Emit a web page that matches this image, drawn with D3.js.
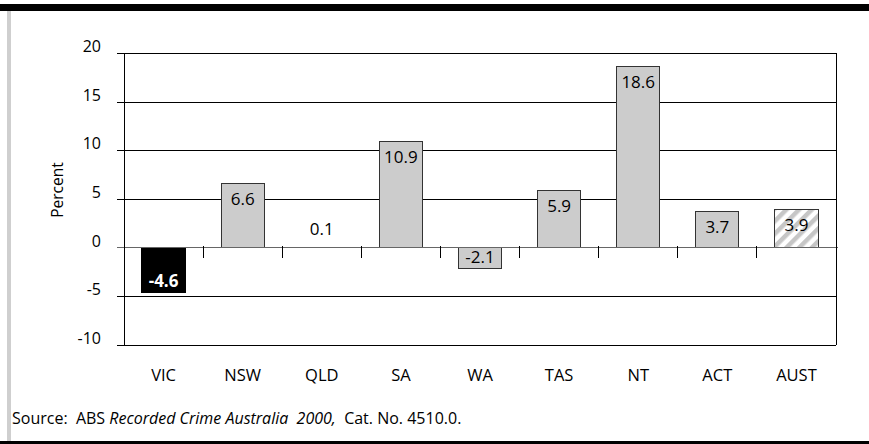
<!DOCTYPE html>
<html>
<head>
<meta charset="utf-8">
<script src="https://cdn.jsdelivr.net/npm/d3@7"></script>
<style>
  html, body { margin: 0; padding: 0; background: #fff; }
  svg { display: block; }
  text { font-family: "Open Sans", Lato, sans-serif; }
</style>
</head>
<body>
<svg id="chart" width="869" height="444"></svg>
<script>
// Change in recorded offences by jurisdiction (percent)
const states = ["VIC", "NSW", "QLD", "SA", "WA", "TAS", "NT", "ACT", "AUST"];
const changes = [-4.6, 6.6, 0.1, 10.9, -2.1, 5.9, 18.6, 3.7, 3.9];
const yTicks = [20, 15, 10, 5, 0, -5, -10];
const yLabels = ["20", "15", "10", "5", "0", "-5", "-10"];

const svg = d3.select("#chart");
const W = 869, H = 444;
const plot = { left: 124, right: 836, top: 53, bottom: 345 };

// Frame: heavy rule on top, grey rule on the left, rule along the bottom
svg.append("rect").attr("x", 0).attr("y", 4).attr("width", W).attr("height", 7).attr("fill", "#000");
svg.append("rect").attr("x", 7).attr("y", 11).attr("width", 4).attr("height", 430).attr("fill", "#cfcfcf");
svg.append("rect").attr("x", 0).attr("y", 441).attr("width", W).attr("height", 3).attr("fill", "#000");

// Hatch for the national total
const defs = svg.append("defs");
const pat = defs.append("pattern")
  .attr("id", "hatch")
  .attr("patternUnits", "userSpaceOnUse")
  .attr("width", 9).attr("height", 9)
  .attr("patternTransform", "rotate(45)");
pat.append("rect").attr("width", 9).attr("height", 9).attr("fill", "#fff");
pat.append("rect").attr("x", 0).attr("width", 4.5).attr("height", 9).attr("fill", "#c6c6c6");

const x = d3.scaleBand()
  .domain(states)
  .range([plot.left, plot.right])
  .paddingInner(0.455)
  .paddingOuter(0.2275);

const y = d3.scaleLinear().domain([-10, 20]).range([plot.bottom, plot.top]);

// Horizontal gridlines (zero line drawn separately)
const grid = svg.append("g")
  .attr("transform", `translate(${plot.left},0)`)
  .call(d3.axisLeft(y).tickValues(yTicks.filter(v => v !== 0))
    .tickSize(-(plot.right - plot.left)).tickFormat(""));
grid.select(".domain").remove();
grid.selectAll(".tick line").attr("stroke", "#000").attr("x1", -7).attr("shape-rendering", "crispEdges");

// Tick labels
svg.append("g").selectAll("text")
  .data(yTicks)
  .join("text")
  .attr("x", 101)
  .attr("y", d => y(d) - 7)
  .attr("text-anchor", "end")
  .attr("dominant-baseline", "central")
  .attr("font-size", 16)
  .attr("fill", "#000")
  .text((d, i) => yLabels[i]);

// Vertical axis and right border
svg.append("line").attr("x1", plot.left).attr("x2", plot.left)
  .attr("y1", plot.top).attr("y2", plot.bottom).attr("stroke", "#000").attr("shape-rendering", "crispEdges");
svg.append("line").attr("x1", plot.right).attr("x2", plot.right)
  .attr("y1", plot.top).attr("y2", plot.bottom).attr("stroke", "#000").attr("shape-rendering", "crispEdges");

// Bars (a sliver too thin to show an outline is left unstroked)
const data = states.map((s, i) => ({ s, v: changes[i], i }));
const barH = d => Math.abs(y(d.v) - y(0));
svg.append("g").selectAll("rect")
  .data(data)
  .join("rect")
  .attr("x", d => x(d.s))
  .attr("y", d => y(Math.max(0, d.v)))
  .attr("width", x.bandwidth())
  .attr("height", barH)
  .attr("fill", d => d.s === "VIC" ? "#000" : d.s === "AUST" ? "url(#hatch)" : "#cccccc")
  .attr("stroke", d => barH(d) < 2 ? "none" : d.s === "VIC" ? "#000" : "#333")
  .attr("stroke-width", 1)
  .attr("shape-rendering", "crispEdges");

// Zero line with category separators
const y0 = y(0);
svg.append("line").attr("x1", plot.left - 7).attr("x2", plot.right + 2)
  .attr("y1", y0).attr("y2", y0).attr("stroke", "#666").attr("shape-rendering", "crispEdges");
const seps = d3.range(states.length + 1).map(k => plot.left + k * x.step());
svg.append("g").selectAll("line")
  .data(seps)
  .join("line")
  .attr("x1", d => d).attr("x2", d => d)
  .attr("y1", y0 - 2).attr("y2", y0 + 10)
  .attr("stroke", "#000")
  .attr("shape-rendering", "crispEdges");

// Value labels
svg.append("g").selectAll("text")
  .data(data)
  .join("text")
  .attr("x", d => x(d.s) + x.bandwidth() / 2)
  .attr("y", d => {
    if (barH(d) < 16) return y(d.v) - 18;
    return d.v >= 0 ? y(d.v) + 15 : y(d.v) - 12;
  })
  .attr("text-anchor", "middle")
  .attr("dominant-baseline", "central")
  .attr("font-size", 17)
  .attr("font-weight", d => d.s === "VIC" ? "bold" : "normal")
  .attr("fill", d => d.s === "VIC" ? "#fff" : "#000")
  .text(d => d.v.toFixed(1));

// Category labels
svg.append("g").selectAll("text")
  .data(states)
  .join("text")
  .attr("x", d => x(d) + x.bandwidth() / 2)
  .attr("y", 374)
  .attr("text-anchor", "middle")
  .attr("dominant-baseline", "central")
  .attr("font-size", 16.5)
  .text(d => d);

// Axis title
svg.append("text")
  .attr("transform", "translate(57,190) rotate(-90)")
  .attr("text-anchor", "middle")
  .attr("dominant-baseline", "central")
  .attr("font-size", 15.5)
  .text("Percent");

// Source note
const src = svg.append("text").attr("x", 12).attr("y", 424).attr("font-size", 16).attr("xml:space", "preserve");
src.append("tspan").text("Source:  ABS ");
src.append("tspan").attr("font-style", "italic").text("Recorded Crime Australia  2000,");
src.append("tspan").text("  Cat. No. 4510.0.");
</script>
</body>
</html>
